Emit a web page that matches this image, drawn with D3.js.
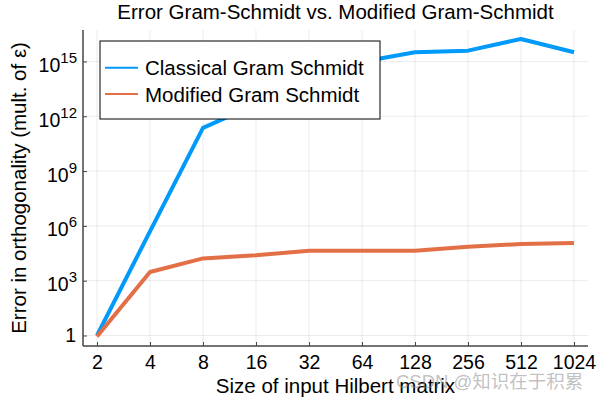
<!DOCTYPE html>
<html>
<head>
<meta charset="utf-8">
<script src="https://cdn.jsdelivr.net/npm/d3@7"></script>
<style>
  html, body { margin: 0; padding: 0; background: #fff; }
  svg { display: block; font-family: "Liberation Sans", Arial, Helvetica, sans-serif; }
</style>
</head>
<body>
<svg id="chart" width="600" height="400"></svg>
<script>
// ---- data ----
const sizes = [2, 4, 8, 16, 32, 64, 128, 256, 512, 1024];
const classicalErr = [1.0, 5.0e5, 2.3e11, 4.5e12, 1.6e14, 9.5e14, 3.2e15, 3.9e15, 1.7e16, 3.2e15];
const modifiedErr = [0.89, 3.0e3, 1.66e4, 2.45e4, 4.4e4, 4.4e4, 4.4e4, 7.2e4, 1.02e5, 1.15e5];
const seriesNames = ["Classical Gram Schmidt", "Modified Gram Schmidt"];
const xTickLabels = ["2", "4", "8", "16", "32", "64", "128", "256", "512", "1024"];
const yTickExponents = [0, 3, 6, 9, 12, 15];

const titleText = "Error Gram-Schmidt vs. Modified Gram-Schmidt";
const xLabelText = "Size of input Hilbert matrix";
const yLabelText = "Error in orthogonality (mult. of ε)";
const watermarkText = "CSDN @知识在于积累";

// ---- layout ----
const plot = { left: 83, right: 588, top: 30, bottom: 346 };
const colors = ["#009AFA", "#E26F46"];

const svg = d3.select("#chart");

const x = d3.scaleLog().base(2)
  .domain([Math.pow(2, 0.736), Math.pow(2, 10.264)])
  .range([plot.left, plot.right]);
const y = d3.scaleLog()
  .domain([Math.pow(10, -0.575), Math.pow(10, 16.72)])
  .range([plot.bottom, plot.top]);

const yTickValues = yTickExponents.map(e => Math.pow(10, e));

// grid
const grid = svg.append("g").attr("stroke", "#000").attr("stroke-opacity", 0.08).attr("stroke-width", 1);
grid.selectAll("line.gx").data(sizes).join("line")
  .attr("x1", d => x(d)).attr("x2", d => x(d))
  .attr("y1", plot.top).attr("y2", plot.bottom);
grid.selectAll("line.gy").data(yTickValues).join("line")
  .attr("x1", plot.left).attr("x2", plot.right)
  .attr("y1", d => y(d)).attr("y2", d => y(d));

// series
const line = d3.line().x(d => x(d[0])).y(d => y(d[1]));
[classicalErr, modifiedErr].forEach((vals, i) => {
  svg.append("path")
    .datum(sizes.map((s, k) => [s, vals[k]]))
    .attr("fill", "none")
    .attr("stroke", colors[i])
    .attr("stroke-width", 4)
    .attr("stroke-linejoin", "round")
    .attr("d", line);
});

// x axis
const xAxis = d3.axisBottom(x)
  .tickValues(sizes)
  .tickFormat((d, i) => xTickLabels[i])
  .tickSizeInner(-4).tickSizeOuter(0).tickPadding(9);
const gx = svg.append("g").attr("transform", `translate(0,${plot.bottom})`).call(xAxis);
gx.select(".domain").attr("stroke", "#444").attr("stroke-width", 1.5)
  .attr("d", `M${plot.left},0H${plot.right}`);
gx.selectAll(".tick line").attr("stroke", "#444");
gx.selectAll(".tick text").attr("font-size", 19.5).attr("fill", "#000")
  .attr("font-family", "Liberation Sans, Arial, sans-serif");

// y axis
const yAxis = d3.axisLeft(y)
  .tickValues(yTickValues)
  .tickFormat("")
  .tickSizeInner(-4).tickSizeOuter(0);
const gy = svg.append("g").attr("transform", `translate(${plot.left},0)`).call(yAxis);
gy.select(".domain").attr("stroke", "#444").attr("stroke-width", 1.5)
  .attr("d", `M0,${plot.top}V${plot.bottom}`);
gy.selectAll(".tick line").attr("stroke", "#444");

// y tick labels with superscripts
const yLab = svg.append("g").attr("text-anchor", "end").attr("fill", "#000");
yTickExponents.forEach(e => {
  const ty = y(Math.pow(10, e));
  if (e === 0) {
    yLab.append("text").attr("x", 76).attr("y", ty + 7).attr("font-size", 19.5).text("1");
  } else {
    const t = yLab.append("text").attr("x", 77).attr("y", ty + 10.5).attr("font-size", 19.5);
    t.append("tspan").text("10");
    t.append("tspan").attr("dy", -9).attr("font-size", 15).text(String(e));
  }
});

// title and axis labels
svg.append("text").attr("x", (plot.left + plot.right) / 2).attr("y", 19)
  .attr("text-anchor", "middle").attr("font-size", 20.5).attr("fill", "#000").text(titleText);
svg.append("text").attr("x", (plot.left + plot.right) / 2).attr("y", 393)
  .attr("text-anchor", "middle").attr("font-size", 20.5).attr("fill", "#000").text(xLabelText);
svg.append("text")
  .attr("transform", `translate(25.5,${(plot.top + plot.bottom) / 2}) rotate(-90)`)
  .attr("text-anchor", "middle").attr("font-size", 20.5).attr("fill", "#000").text(yLabelText);

// legend
const lg = svg.append("g");
lg.append("rect").attr("x", 100).attr("y", 41).attr("width", 280).attr("height", 78)
  .attr("fill", "#fff").attr("stroke", "#000").attr("stroke-width", 1);
seriesNames.forEach((name, i) => {
  const ly = 67.7 + i * 26.3;
  lg.append("line").attr("x1", 105).attr("x2", 138).attr("y1", ly).attr("y2", ly)
    .attr("stroke", colors[i]).attr("stroke-width", 2);
  lg.append("text").attr("x", 145).attr("y", ly + 7.5).attr("font-size", 20.5)
    .attr("fill", "#000").text(name);
});

// watermark
svg.append("text").attr("x", 396).attr("y", 388)
  .attr("font-size", 18.5).attr("fill", "rgba(140,140,140,0.55)")
  .attr("font-family", "Liberation Sans, 'Noto Sans CJK SC', sans-serif")
  .text(watermarkText);
</script>
</body>
</html>
